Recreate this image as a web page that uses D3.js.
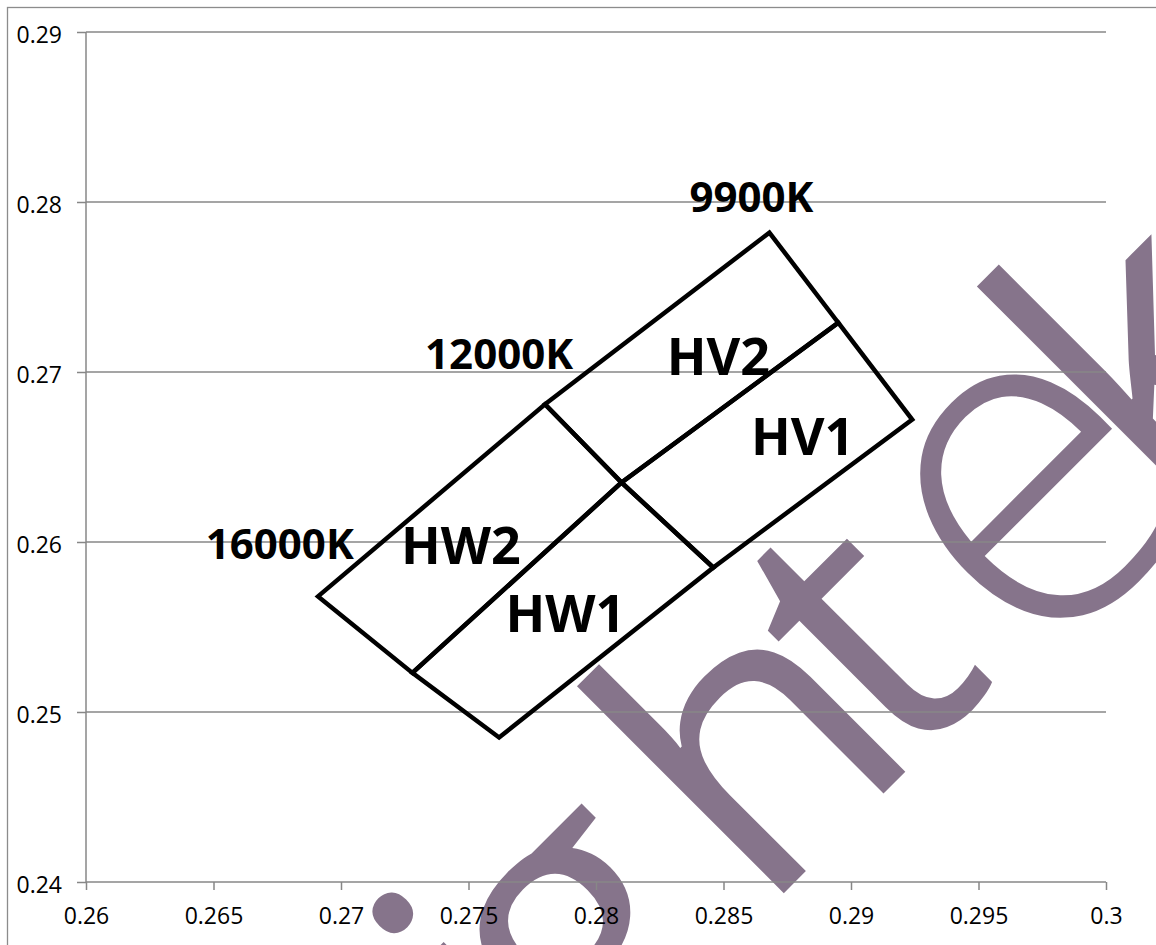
<!DOCTYPE html>
<html><head><meta charset="utf-8">
<script src="https://cdn.jsdelivr.net/npm/d3@7"></script>
<style>body{margin:0;background:#fff} svg{display:block}</style>
</head><body><svg id="c" width="1156" height="945"></svg>
<script>
// ---- data ----
const xTicks = [0.26, 0.265, 0.27, 0.275, 0.28, 0.285, 0.29, 0.295, 0.3];
const xTickLabels = ["0.26", "0.265", "0.27", "0.275", "0.28", "0.285", "0.29", "0.295", "0.3"];
const yTicks = [0.24, 0.25, 0.26, 0.27, 0.28, 0.29];
const yTickLabels = ["0.24", "0.25", "0.26", "0.27", "0.28", "0.29"];

const binNames = ["HW2", "HW1", "HV2", "HV1"];
const binX = [
  [0.2691, 0.2780, 0.2810, 0.2728],
  [0.2728, 0.2810, 0.2846, 0.2762],
  [0.2780, 0.2868, 0.2895, 0.2810],
  [0.2810, 0.2895, 0.2924, 0.2846]
];
const binY = [
  [0.2568, 0.2681, 0.2635, 0.2523],
  [0.2523, 0.2635, 0.2585, 0.2485],
  [0.2681, 0.2782, 0.2729, 0.2635],
  [0.2635, 0.2729, 0.2672, 0.2585]
];
const binLabelX = [0.2747, 0.2788, 0.2848, 0.2881];
const binLabelY = [0.2587, 0.2547, 0.2698, 0.2651];

const cctLabels = ["9900K", "12000K", "16000K"];
const cctX = [0.2861, 0.2762, 0.2676];
const cctY = [0.2794, 0.2702, 0.2590];

const watermarkText = "ightek";

// ---- chart ----
const svg = d3.select("#c");
const L = 86, R = 1106, T = 32, B = 882;
const x = d3.scaleLinear().domain([0.26, 0.3]).range([L, R]);
const y = d3.scaleLinear().domain([0.24, 0.29]).range([B, T]);
const grey = "#878787";

// outer chart frame
svg.append("rect").attr("x", 7.5).attr("y", 7.5).attr("width", 1200).attr("height", 1000)
  .attr("fill", "#fff").attr("stroke", "#8c8c8c").attr("stroke-width", 1.3);

// watermark (under grid), one tspan per letter for spacing
const wmDx = [0, -39, 39, -35, 24, -55];
const wmDy = [0, 0, 0, 0, 26, -26];
const wmSize = [385, 385, 385, 385, 470, 385];
const wmWeight = [400, 400, 400, 400, 320, 400];
svg.append("text")
  .attr("transform", "translate(544,1133) rotate(-45)")
  .attr("font-family", "'Open Sans', sans-serif")
  .attr("fill", "#86748b")
  .selectAll("tspan").data(watermarkText.split("")).join("tspan")
  .attr("dx", (d, i) => wmDx[i]).attr("dy", (d, i) => wmDy[i])
  .attr("font-size", (d, i) => wmSize[i])
  .attr("font-weight", (d, i) => wmWeight[i])
  .text(d => d);

// gridlines
svg.append("g").selectAll("line").data(yTicks.filter(d => d > 0.24)).join("line")
  .attr("x1", L).attr("x2", R).attr("y1", d => y(d)).attr("y2", d => y(d))
  .attr("stroke", grey).attr("stroke-width", 1.5);

// axes
const fontTick = "'Open Sans', sans-serif";
const xAxis = svg.append("g").attr("transform", `translate(0,${B})`)
  .call(d3.axisBottom(x).tickValues(xTicks).tickSize(8).tickPadding(18)
    .tickFormat((d, i) => xTickLabels[i]));
const yAxis = svg.append("g").attr("transform", `translate(${L},0)`)
  .call(d3.axisLeft(y).tickValues(yTicks).tickSize(9).tickPadding(15)
    .tickFormat((d, i) => yTickLabels[i]));
[xAxis, yAxis].forEach(g => {
  g.select(".domain").attr("stroke", grey).attr("stroke-width", 1.5);
  g.selectAll(".tick line").attr("stroke", grey).attr("stroke-width", 1.5);
  g.selectAll(".tick text").attr("font-family", fontTick).attr("font-size", 23).attr("fill", "#000");
});
yAxis.selectAll(".tick text").attr("dy", "0.45em");
xAxis.select(".domain").attr("d", `M${L},0H${R}`);
yAxis.select(".domain").attr("d", `M0,${T}V${B}`);

// bins
const line = d3.line().x(d => x(d[0])).y(d => y(d[1])).curve(d3.curveLinearClosed);
svg.append("g").selectAll("path").data(binNames).join("path")
  .attr("d", (n, i) => line(binX[i].map((v, j) => [v, binY[i][j]])))
  .attr("fill", "none").attr("stroke", "#000").attr("stroke-width", 4.5)
  .attr("stroke-linejoin", "miter");

// labels
svg.append("g").selectAll("text").data(binNames).join("text")
  .attr("x", (n, i) => x(binLabelX[i])).attr("y", (n, i) => y(binLabelY[i]))
  .attr("text-anchor", "middle")
  .attr("font-family", "'Open Sans', sans-serif").attr("font-weight", 700)
  .attr("font-size", 52).attr("fill", "#000").text(d => d);

svg.append("g").selectAll("text").data(cctLabels).join("text")
  .attr("x", (n, i) => x(cctX[i])).attr("y", (n, i) => y(cctY[i]))
  .attr("text-anchor", "middle")
  .attr("font-family", "'Open Sans', sans-serif").attr("font-weight", 700)
  .attr("font-size", 42).attr("fill", "#000").text(d => d);
</script></body></html>
